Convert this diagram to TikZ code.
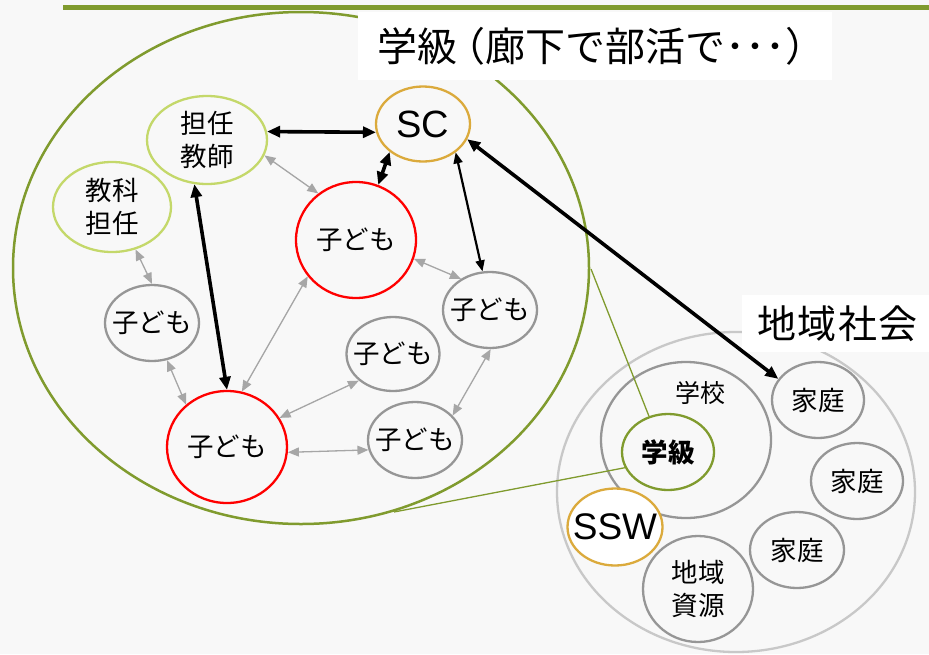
\documentclass[tikz,border=0pt]{standalone}
\usepackage{fontspec}
\setmainfont{Noto Sans CJK JP}
\newfontfamily\latinfont{Liberation Sans}
\usetikzlibrary{shapes.geometric,arrows.meta}
\definecolor{bgc}{RGB}{248,248,248}
\definecolor{myolive}{RGB}{128,155,46}
\definecolor{lgreen}{RGB}{196,216,106}
\definecolor{gold}{RGB}{219,170,60}
\definecolor{cgray}{RGB}{150,150,150}
\definecolor{lgray}{RGB}{200,200,200}
\definecolor{agray}{RGB}{166,166,166}
\begin{document}
\begin{tikzpicture}[x=1pt,y=-1pt,
  ell/.style={ellipse, draw, line width=2.3pt, inner xsep=-25pt, inner ysep=-15pt, align=center,
     font=\fontsize{26.5}{33}\selectfont},
  kid/.style={ell, draw=cgray},
  redkid/.style={ell, draw=red},
  teacher/.style={ell, draw=lgreen},
  garr/.style={{Triangle[length=11pt,width=9pt]}-{Triangle[length=11pt,width=9pt]}, draw=agray, fill=agray, line width=1.3pt},
  barr/.style={{Triangle[length=13pt,width=11pt]}-{Triangle[length=13pt,width=11pt]}, draw=black, line width=3.6pt},
  tarr/.style={{Triangle[length=11pt,width=9pt]}-{Triangle[length=11pt,width=9pt]}, draw=black, line width=2.2pt},
  labelbox/.style={fill=white, inner sep=0pt}]
\useasboundingbox (0,0) rectangle (929,654);
\fill[bgc] (0,0) rectangle (929,654);
\draw[myolive, line width=5pt] (63,7) -- (929,7);

% big class ellipse
\node[ellipse, draw=myolive, line width=2.5pt, minimum width=576pt, minimum height=512pt, inner sep=0pt] (cls) at (301,268) {};

% community circle
\node[ellipse, draw=lgray, line width=2.3pt, minimum width=358pt, minimum height=320pt, inner sep=0pt] (comm) at (736,492) {};
\node[ellipse, draw=cgray, line width=2.3pt, minimum width=170pt, minimum height=156pt, inner sep=0pt] (school) at (686,440) {};
\node[font=\fontsize{25}{30}\selectfont] (schooltxt) at (700,393) {学校};
\node[ell, draw=myolive, minimum width=92pt, minimum height=76pt, font=\fontsize{26.5}{32}\selectfont\bfseries] (gk) at (668,452) {学級};
\node[kid, minimum width=92pt, minimum height=76pt] (k1) at (818,400) {家庭};
\node[kid, minimum width=92pt, minimum height=76pt] (k2) at (857,481) {家庭};
\node[kid, minimum width=94pt, minimum height=76pt] (k3) at (797,550) {家庭};
\node[kid, minimum width=110pt, minimum height=106pt] (res) at (698,589) {地域\\資源};
\node[ell, draw=gold, fill=white, minimum width=95pt, minimum height=77pt, font=\latinfont\fontsize{37}{40}\selectfont] (ssw) at (615,527) {SSW};

% connector lines from class
\coordinate (c1) at (591,269);
\coordinate (c2) at (394,512);
\draw[myolive, line width=1.3pt] (c1) -- (gk.118);
\draw[myolive, line width=1.3pt] (c2) -- (gk.200);

% labels
\node[labelbox, minimum width=474pt, minimum height=68pt] (titlebox) at (595,46) {};
\node[inner sep=0pt, anchor=west, font=\fontsize{40}{44}\selectfont] (title) at (377,46) {学級\kern-12pt（廊下で部活で･･･）};
\node[labelbox, minimum width=187pt, minimum height=57pt] (regionbox) at (835.5,323.5) {};
\node[inner sep=0pt, anchor=west, font=\fontsize{39}{44}\selectfont] (region) at (757,323.5) {地\kern1.5pt域\kern1.5pt社\kern1.5pt会};

% class nodes
\node[ell, draw=gold, minimum width=94pt, minimum height=75pt, font=\latinfont\fontsize{38}{40}\selectfont] (sc) at (423,124) {SC};
\node[teacher, minimum width=120pt, minimum height=88pt] (tan) at (207,140) {担任\\教師};
\node[teacher, minimum width=118pt, minimum height=90pt] (kyo) at (112,207) {教科\\担任};
\node[redkid, minimum width=120pt, minimum height=116pt] (rt) at (356,240) {子ども};
\node[redkid, minimum width=120pt, minimum height=112pt] (rb) at (227,447) {子ども};
\node[kid, minimum width=94pt, minimum height=76pt] (lc) at (152,323) {子ども};
\node[kid, minimum width=94pt, minimum height=76pt] (rc) at (490,310) {子ども};
\node[kid, minimum width=93pt, minimum height=74pt] (mc) at (393,354) {子ども};
\node[kid, minimum width=94pt, minimum height=76pt] (brc) at (415,440) {子ども};

% gray arrows
\draw[garr] (tan.-15) -- (rt.129);
\draw[garr] (kyo.-61) -- (lc.90);
\draw[garr] (rt.-18) -- (rc.133);
\draw[garr] (rt.217) -- (rb.75);
\draw[garr] (lc.-68) -- (rb.134);
\draw[garr] (rb.29) -- (mc.218);
\draw[garr] (rb.-5) -- (brc.192);
\draw[garr] (rc.271) -- (brc.33);

% black arrows
\draw[barr] (tan.8) -- (sc.190);
\draw[barr] (tan.254) -- (rb.90);
\draw[barr] (sc.220) -- (rt.68);
\draw[tarr] (sc.-41) -- (rc.101);
\draw[barr] (sc.-19) -- (k1.152);
\end{tikzpicture}
\end{document}
